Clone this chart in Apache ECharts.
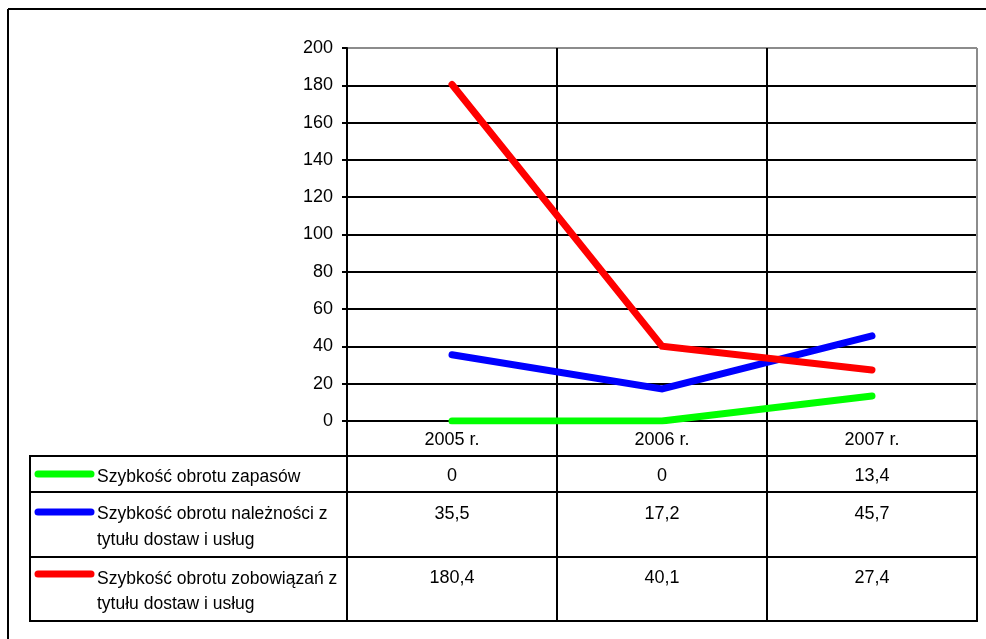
<!DOCTYPE html>
<html><head><meta charset="utf-8">
<script src="https://cdn.jsdelivr.net/npm/echarts@6/dist/echarts.min.js"></script>
<style>html,body{margin:0;padding:0;background:#fff}#c{width:986px;height:639px}</style>
</head><body><div id="c"></div>
<script>
// ---- data ----
const categories = ['2005 r.', '2006 r.', '2007 r.'];
const zapasy = [0, 0, 13.4];
const naleznosci = [35.5, 17.2, 45.7];
const zobowiazania = [180.4, 40.1, 27.4];
const seriesLabels = [
  ['Szybkość obrotu zapasów'],
  ['Szybkość obrotu należności z', 'tytułu dostaw i usług'],
  ['Szybkość obrotu zobowiązań z', 'tytułu dostaw i usług']
];
const seriesColors = ['#00ff00', '#0000ff', '#ff0000'];
const yMin = 0, yMax = 200, yInterval = 20;

// ---- layout ----
const FONT = "'Liberation Sans', Arial, sans-serif";
const GL = 347, GR = 977, GT = 48, GB = 421;
const TABLE_LEFT = 30;
const rowLines = [456, 492, 557, 621];
const legendLineY = [474, 512, 574];
const textY = [[477], [514, 540], [579, 604]];
const valueY = [476, 514, 578];

const chart = echarts.init(document.getElementById('c'), null, {renderer: 'canvas'});
const allSeries = [zapasy, naleznosci, zobowiazania];
const colW = (GR - GL) / categories.length;

const graphics = [];
// outer frame (top + left)
graphics.push({type: 'line', shape: {x1: 8, y1: 9, x2: 986, y2: 9}, style: {stroke: '#000', lineWidth: 2}});
graphics.push({type: 'line', shape: {x1: 8, y1: 9, x2: 8, y2: 639}, style: {stroke: '#000', lineWidth: 2}});
// table horizontal lines
rowLines.forEach(y => graphics.push({type: 'line', shape: {x1: TABLE_LEFT, y1: y, x2: GR, y2: y}, style: {stroke: '#000', lineWidth: 2}}));
// table vertical lines
for (let i = 0; i <= categories.length; i++) {
  const x = GL + i * colW;
  graphics.push({type: 'line', shape: {x1: x, y1: GB, x2: x, y2: rowLines[rowLines.length - 1] + 1}, style: {stroke: '#000', lineWidth: 2}});
}
graphics.push({type: 'line', shape: {x1: TABLE_LEFT, y1: rowLines[0] - 1, x2: TABLE_LEFT, y2: rowLines[rowLines.length - 1] + 1}, style: {stroke: '#000', lineWidth: 2}});
// legend keys + labels + values
seriesLabels.forEach((lines, si) => {
  graphics.push({type: 'line', shape: {x1: 38, y1: legendLineY[si], x2: 91, y2: legendLineY[si]},
    style: {stroke: seriesColors[si], lineWidth: 7, lineCap: 'round'}});
  lines.forEach((t, li) => graphics.push({type: 'text', x: 97, y: textY[si][li],
    style: {text: t, font: '17.5px ' + FONT, fill: '#000', textAlign: 'left', textVerticalAlign: 'middle'}}));
  allSeries[si].forEach((v, ci) => graphics.push({type: 'text', x: GL + (ci + 0.5) * colW, y: valueY[si],
    style: {text: String(v).replace('.', ','), font: '18px ' + FONT, fill: '#000', textAlign: 'center', textVerticalAlign: 'middle'}}));
});

const nTicks = (yMax - yMin) / yInterval + 1;
const ySplitColors = Array.from({length: nTicks}, (_, i) => i === nTicks - 1 ? '#8c8c8c' : '#000');

chart.setOption({
  animation: false,
  backgroundColor: '#fff',
  textStyle: {fontFamily: FONT},
  grid: {left: GL, right: 986 - GR, top: GT, bottom: 639 - GB, containLabel: false},
  xAxis: {
    type: 'category', data: categories, boundaryGap: true,
    axisLine: {show: true, lineStyle: {color: '#000', width: 2}},
    axisTick: {show: false},
    axisLabel: {color: '#000', fontSize: 18, fontFamily: FONT, margin: 10},
    splitLine: {show: true, lineStyle: {color: ['#000', '#000', '#000', '#8c8c8c'], width: 2}}
  },
  yAxis: {
    type: 'value', min: yMin, max: yMax, interval: yInterval,
    axisLine: {show: true, lineStyle: {color: '#000', width: 2}},
    axisTick: {show: true, length: 5, inside: false, lineStyle: {color: '#000', width: 2}},
    axisLabel: {color: '#000', fontSize: 18, fontFamily: FONT, margin: 14},
    splitLine: {show: true, lineStyle: {color: ySplitColors, width: 2}}
  },
  series: allSeries.map((d, i) => ({
    type: 'line', name: seriesLabels[i].join(' '), data: d, symbol: 'none', clip: true,
    color: seriesColors[i],
    lineStyle: {color: seriesColors[i], width: 7, cap: 'round', join: 'miter'}
  })),
  graphic: {elements: graphics}
});
</script></body></html>
